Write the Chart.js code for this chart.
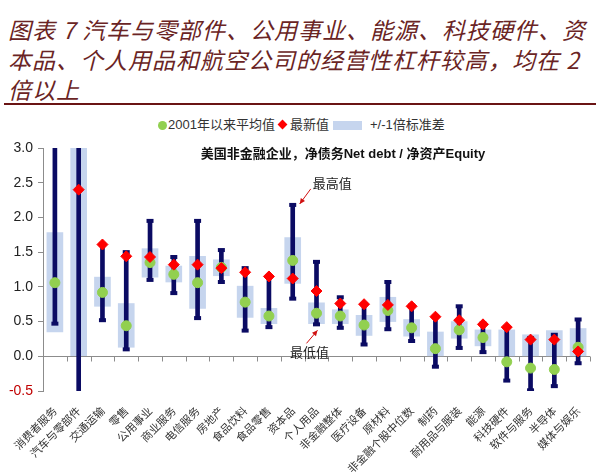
<!DOCTYPE html>
<html>
<head>
<meta charset="utf-8">
<script src="https://cdn.jsdelivr.net/npm/chart.js@4.4.0/dist/chart.umd.min.js"></script>
<style>
  body { margin: 0; width: 600px; height: 474px; overflow: hidden; background: #fff; position: relative;
         font-family: 'Liberation Sans', 'Noto Sans CJK SC', sans-serif; }
  #title { position: absolute; left: 8px; top: 14px; width: 592px; font-family: 'Noto Sans CJK SC';
           font-size: 23px; line-height: 30px; font-style: italic; color: #6a2424; letter-spacing: 1px; }
  #rule { position: absolute; left: 4px; top: 103px; width: 592px; height: 2px; background: #6a1414; }
  #legend { position: absolute; top: 116px; left: 0; width: 600px; height: 18px; font-size: 13px; color: #333; }
  #legend span { position: absolute; top: 0; line-height: 18px; white-space: nowrap; }
  .dot { width: 9px; height: 9px; border-radius: 50%; background: #92d050; top: 5px !important; }
  .dia { width: 7px; height: 7px; background: #ff0000; transform: rotate(45deg); top: 5px !important; }
  .band { width: 29px; height: 9px; background: #c6d5ee; top: 5px !important; }
  #wrap { position: absolute; left: 0; top: 108px; width: 600px; height: 366px; }
</style>
</head>
<body>
<div id="title">图表 7 汽车与零部件、公用事业、能源、科技硬件、资<br>本品、个人用品和航空公司的经营性杠杆较高，均在 2<br>倍以上</div>
<div id="rule"></div>
<div id="legend">
  <span class="dot" style="left:158px"></span><span style="left:168px">2001年以来平均值</span>
  <span class="dia" style="left:279px"></span><span style="left:290px">最新值</span>
  <span class="band" style="left:333px"></span><span style="left:370px">+/-1倍标准差</span>
</div>
<div id="wrap"><canvas id="chart"></canvas></div>
<script>
const categories = ['消费者服务', '汽车与零部件', '交通运输', '零售', '公用事业', '商业服务', '电信服务', '房地产',
  '食品饮料', '食品零售', '资本品', '个人用品', '非金融整体', '医疗设备', '原材料', '非金融个股中位数', '制药',
  '耐用品与服装', '能源', '科技硬件', '软件与服务', '半导体', '媒体与娱乐'];

// values above 3.0 / below -0.5 run off the plot in the picture
const maxVal = [3.3, 3.5, 1.61, 1.50, 1.95, 1.43, 1.95, 1.53, 1.27, 1.15, 2.18, 1.36, 0.85, 0.75, 1.07, 0.73, 0.57, 0.72, 0.47, 0.42, 0.26, 0.31, 0.53];
const minVal = [0.47, -0.8, 0.52, 0.10, 1.10, 0.91, 0.55, 1.07, 0.37, 0.42, 0.83, 0.46, 0.41, 0.17, 0.39, 0.22, -0.15, 0.12, 0.06, -0.35, -0.49, -0.43, -0.10];
const meanVal = [1.06, 3.3, 0.92, 0.44, 1.35, 1.18, 1.06, 1.28, 0.78, 0.58, 1.38, 0.62, 0.58, 0.45, 0.66, 0.41, 0.11, 0.38, 0.27, -0.08, -0.17, -0.19, 0.13];
const latestVal = [3.2, 2.40, 1.61, 1.44, 1.43, 1.32, 1.32, 1.27, 1.21, 1.15, 1.12, 0.94, 0.76, 0.75, 0.74, 0.72, 0.57, 0.52, 0.46, 0.42, 0.24, 0.24, 0.07];
// +/-1 std band, drawn from zero upward where it would go negative
const bandLow = [0.35, 0, 0.72, 0.13, 1.14, 1.07, 0.69, 1.16, 0.56, 0.47, 1.05, 0.47, 0.47, 0.30, 0.50, 0.29, 0, 0.26, 0.15, 0, 0, 0, 0];
const bandHigh = [1.78, 3.3, 1.14, 0.76, 1.55, 1.30, 1.44, 1.39, 1.01, 0.69, 1.71, 0.77, 0.67, 0.59, 0.85, 0.53, 0.35, 0.50, 0.38, 0.38, 0.31, 0.37, 0.40];
const yTicks = [-0.5, 0, 0.5, 1.0, 1.5, 2.0, 2.5, 3.0];

const navy = '#0b0b63';
const axisGray = '#8c8c8c';

function drawArrow(ctx, x1, y1, x2, y2) {
    ctx.beginPath();
    ctx.moveTo(x1, y1);
    ctx.lineTo(x2, y2);
    ctx.stroke();
    const a = Math.atan2(y2 - y1, x2 - x1);
    ctx.beginPath();
    ctx.moveTo(x2, y2);
    ctx.lineTo(x2 - 6 * Math.cos(a - 0.45), y2 - 6 * Math.sin(a - 0.45));
    ctx.lineTo(x2 - 6 * Math.cos(a + 0.45), y2 - 6 * Math.sin(a + 0.45));
    ctx.closePath();
    ctx.fill();
}

// small tick marks under the zero line, between categories
const zeroTicks = {
    id: 'zeroTicks',
    afterDatasetsDraw(chart) {
        const { ctx, scales: { x, y } } = chart;
        const y0 = Math.round(y.getPixelForValue(0)) + 0.5;
        const half = (x.getPixelForValue(1) - x.getPixelForValue(0)) / 2;
        ctx.save();
        ctx.strokeStyle = axisGray;
        ctx.lineWidth = 1;
        ctx.beginPath();
        for (let i = 0; i <= categories.length; i++) {
            const px = Math.round(x.getPixelForValue(i) - half) + 0.5;
            ctx.moveTo(px, y0);
            ctx.lineTo(px, y0 + 5);
        }
        ctx.stroke();
        ctx.restore();
    }
};

// subtitle and the max / min call-outs
const notes = {
    id: 'notes',
    afterDraw(chart) {
        const { ctx, chartArea, scales: { x, y } } = chart;
        ctx.save();
        ctx.fillStyle = '#111';
        ctx.font = 'bold 13px "Liberation Sans", "Noto Sans CJK SC"';
        ctx.textAlign = 'center';
        ctx.textBaseline = 'middle';
        ctx.fillText('美国非金融企业，净债务Net debt / 净资产Equity', 343, chartArea.top + 6);

        ctx.font = '13px "Noto Sans CJK SC"';
        ctx.textAlign = 'left';
        ctx.strokeStyle = '#d01010';
        ctx.fillStyle = '#d01010';
        ctx.lineWidth = 1;
        const hx = x.getPixelForValue(10), hy = y.getPixelForValue(maxVal[10]);
        drawArrow(ctx, hx + 18, hy - 16, hx + 7, hy - 1);
        const lx = x.getPixelForValue(11), ly = y.getPixelForValue(minVal[11]);
        drawArrow(ctx, lx - 10, ly + 19, lx + 1, ly + 6);
        ctx.fillStyle = '#222';
        ctx.fillText('最高值', hx + 20, hy - 22);
        ctx.textAlign = 'center';
        ctx.fillText('最低值', lx - 7, ly + 28);
        ctx.restore();
    }
};

new Chart(document.getElementById('chart'), {
    data: {
        labels: categories,
        datasets: [
            { type: 'line', label: '2001年以来平均值', data: meanVal, showLine: false, pointStyle: 'circle',
              pointRadius: 5, pointBackgroundColor: '#92d050', pointBorderColor: '#92d050', order: 1 },
            { type: 'line', label: '最新值', data: latestVal, showLine: false, pointStyle: 'rectRot',
              pointRadius: 5.5, pointBackgroundColor: '#ff0000', pointBorderColor: '#ff0000', order: 0 },
            { type: 'bar', label: '+/-1倍标准差', data: categories.map((c, i) => [bandLow[i], bandHigh[i]]),
              backgroundColor: '#c6d5ee', barThickness: 16, grouped: false, order: 5 },
            { type: 'bar', label: 'range', data: categories.map((c, i) => [minVal[i], maxVal[i]]),
              backgroundColor: navy, barThickness: 4, grouped: false, order: 4 },
            { type: 'line', label: 'max', data: maxVal, showLine: false, pointStyle: 'line',
              pointRadius: 3.5, pointBorderWidth: 4, pointBorderColor: navy, order: 2 },
            { type: 'line', label: 'min', data: minVal, showLine: false, pointStyle: 'line',
              pointRadius: 3.5, pointBorderWidth: 4, pointBorderColor: navy, order: 3 }
        ]
    },
    options: {
        responsive: true,
        maintainAspectRatio: false,
        animation: false,
        events: [],
        layout: { padding: { top: 40, right: 10 } },
        plugins: { legend: { display: false }, tooltip: { enabled: false } },
        scales: {
            x: {
                grid: { display: false },
                border: { display: false },
                ticks: {
                    autoSkip: false, maxRotation: 45, minRotation: 45, padding: 5,
                    color: '#333', font: { family: 'Noto Sans CJK SC', size: 11 }
                },
                afterFit(scale) { scale.height = 83; }
            },
            y: {
                min: -0.5,
                max: 3.0,
                afterBuildTicks(scale) { scale.ticks = yTicks.map(v => ({ value: v })); },
                grid: {
                    color: c => (c.tick && c.tick.value === 0 ? axisGray : 'rgba(0,0,0,0)'),
                    tickColor: axisGray, tickLength: 5
                },
                border: { color: axisGray },
                ticks: {
                    padding: 5,
                    color: c => (c.tick.value < 0 ? '#c00000' : '#222'),
                    font: { family: 'Liberation Sans', size: 14 },
                    callback: v => v.toFixed(1)
                },
                afterFit(scale) { scale.width = 43; }
            }
        }
    },
    plugins: [zeroTicks, notes]
});
</script>
</body>
</html>
